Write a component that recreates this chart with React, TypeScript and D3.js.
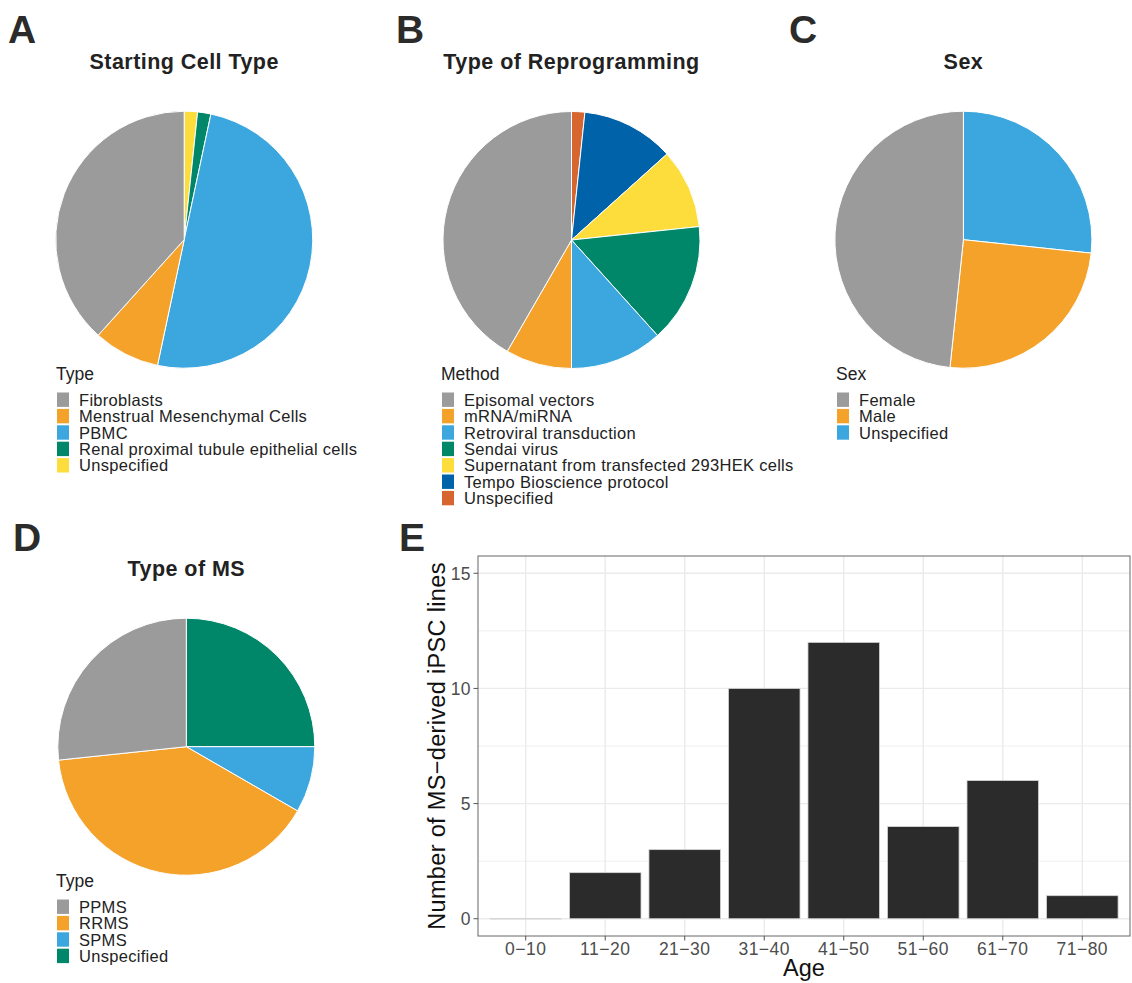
import React from 'react';
import * as d3 from 'd3';

// pie A - Starting Cell Type
const cellTypes = ['Fibroblasts', 'Menstrual Mesenchymal Cells', 'PBMC', 'Renal proximal tubule epithelial cells', 'Unspecified'];
const cellCounts = [23, 5, 30, 1, 1];
const cellColors = ['#9b9b9b', '#f4a22a', '#3ba7de', '#00876a', '#fcdd3c'];

// pie B - Type of Reprogramming
const methods = ['Episomal vectors', 'mRNA/miRNA', 'Retroviral transduction', 'Sendai virus', 'Supernatant from transfected 293HEK cells', 'Tempo Bioscience protocol', 'Unspecified'];
const methodCounts = [25, 5, 7, 9, 6, 7, 1];
const methodColors = ['#9b9b9b', '#f4a22a', '#3ba7de', '#00876a', '#fcdd3c', '#0062a9', '#d66530'];

// pie C - Sex
const sexes = ['Female', 'Male', 'Unspecified'];
const sexCounts = [29, 15, 16];
const sexColors = ['#9b9b9b', '#f4a22a', '#3ba7de'];

// pie D - Type of MS
const msTypes = ['PPMS', 'RRMS', 'SPMS', 'Unspecified'];
const msCounts = [16, 24, 5, 15];
const msColors = ['#9b9b9b', '#f4a22a', '#3ba7de', '#00876a'];

// bar E - age
const ageGroups = ['0\u221210', '11\u221220', '21\u221230', '31\u221240', '41\u221250', '51\u221260', '61\u221270', '71\u221280'];
const ageCounts = [0, 2, 3, 10, 12, 4, 6, 1];
const yTicks = [0, 5, 10, 15];
const yMinor = [2.5, 7.5, 12.5];

const FONT = '"Liberation Sans", Arial, Helvetica, sans-serif';

type PieProps = {
  cx: number; cy: number; r: number;
  title: string; titleY: number;
  labels: string[]; counts: number[]; colors: string[];
  legendTitle: string; legendX: number; legendY: number;
};

const Pie = ({ cx, cy, r, title, titleY, labels, counts, colors, legendTitle, legendX, legendY }: PieProps) => {
  // ggplot coord_polar stacks the last level first, clockwise from 12 o'clock
  const rows = labels.map((l, i) => ({ label: l, value: counts[i], color: colors[i] })).reverse();
  const arcs = d3.pie<any>().sort(null).value(d => d.value)(rows);
  const arc = d3.arc<any>().innerRadius(0).outerRadius(r);
  const rowH = 16.4;
  return (
    <g>
      <text x={cx} y={titleY} textAnchor="middle" fontFamily={FONT} fontWeight="bold" fontSize={21.5} letterSpacing={0.45} fill="#222">{title}</text>
      <g transform={`translate(${cx},${cy})`}>
        {arcs.map((a, i) => (
          <path key={i} d={arc(a) as string} fill={a.data.color} stroke="#fff" strokeWidth={1} />
        ))}
      </g>
      <g transform={`translate(${legendX},${legendY})`} fontFamily={FONT}>
        <text x={0} y={0} fontSize={17.5} fill="#222">{legendTitle}</text>
        {labels.map((l, i) => (
          <g key={l} transform={`translate(0,${12 + i * rowH})`}>
            <rect x={1} y={0.5} width={12} height={rowH - 2} fill={colors[i]} />
            <text x={23} y={rowH / 2 + 5.5} fontSize={16.5} letterSpacing={0.3} fill="#222">{l}</text>
          </g>
        ))}
      </g>
    </g>
  );
};

const BarPanel = () => {
  const left = 478, right = 1130, top = 556, bottom = 936;
  const x = d3.scaleBand<string>().domain(ageGroups).range([left, right]).paddingInner(0.1).paddingOuter(0.15);
  const y = d3.scaleLinear().domain([-0.75, 15.75]).range([bottom, top]);
  const grid = '#ebebeb';
  return (
    <g fontFamily={FONT}>
      {yMinor.map(t => (
        <line key={'m' + t} x1={left} x2={right} y1={y(t)} y2={y(t)} stroke={grid} strokeWidth={0.8} />
      ))}
      {yTicks.map(t => (
        <line key={'g' + t} x1={left} x2={right} y1={y(t)} y2={y(t)} stroke={grid} strokeWidth={1.4} />
      ))}
      {ageGroups.map(g => (
        <line key={'v' + g} x1={x(g)! + x.bandwidth() / 2} x2={x(g)! + x.bandwidth() / 2} y1={top} y2={bottom} stroke={grid} strokeWidth={1.4} />
      ))}
      {ageGroups.map((g, i) => (
        ageCounts[i] > 0 ? (
          <rect key={'b' + g} x={x(g)} y={y(ageCounts[i])} width={x.bandwidth()} height={y(0) - y(ageCounts[i])}
            fill="#2b2b2b" stroke="#d5d5d5" strokeWidth={0.8} />
        ) : (
          <line key={'b' + g} x1={x(g)} x2={x(g)! + x.bandwidth()} y1={y(0)} y2={y(0)} stroke="#d5d5d5" strokeWidth={1.4} />
        )
      ))}
      <rect x={left} y={top} width={right - left} height={bottom - top} fill="none" stroke="#666" strokeWidth={1} />
      {yTicks.map(t => (
        <g key={'yt' + t}>
          <line x1={left - 4.5} x2={left} y1={y(t)} y2={y(t)} stroke="#555" strokeWidth={1} />
          <text x={left - 7} y={y(t)} dy="0.36em" textAnchor="end" fontSize={17.5} letterSpacing={0.4} fill="#4d4d4d">{t}</text>
        </g>
      ))}
      {ageGroups.map(g => (
        <g key={'xt' + g}>
          <line x1={x(g)! + x.bandwidth() / 2} x2={x(g)! + x.bandwidth() / 2} y1={bottom} y2={bottom + 4.5} stroke="#555" strokeWidth={1} />
          <text x={x(g)! + x.bandwidth() / 2} y={955} textAnchor="middle" fontSize={17.5} letterSpacing={0.5} fill="#4d4d4d">{g}</text>
        </g>
      ))}
      <text x={(left + right) / 2} y={976} textAnchor="middle" fontSize={23.5} fill="#111">Age</text>
      <text transform={`translate(445,${(top + bottom) / 2}) rotate(-90)`} textAnchor="middle" fontSize={23.5} letterSpacing={0.33} fill="#111">
        Number of MS{'\u2212'}derived iPSC lines
      </text>
    </g>
  );
};

const Letter = ({ x, y, t }: { x: number; y: number; t: string }) => (
  <text x={x} y={y} fontFamily={FONT} fontWeight="bold" fontSize={39} fill="#2b2b2b">{t}</text>
);

export default function App() {
  return (
    <svg width={1132} height={983} style={{ position: 'absolute', left: 0, top: 0, background: '#fff' }}>
      <rect width={1132} height={983} fill="#fff" />
      <Letter x={8} y={43} t="A" />
      <Letter x={396} y={43} t="B" />
      <Letter x={789} y={43} t="C" />
      <Letter x={13} y={551} t="D" />
      <Letter x={399} y={551} t="E" />
      <Pie cx={184.2} cy={239.7} r={128.5} title="Starting Cell Type" titleY={69}
        labels={cellTypes} counts={cellCounts} colors={cellColors}
        legendTitle="Type" legendX={56} legendY={380} />
      <Pie cx={571.5} cy={240} r={128.5} title="Type of Reprogramming" titleY={69}
        labels={methods} counts={methodCounts} colors={methodColors}
        legendTitle="Method" legendX={441} legendY={380} />
      <Pie cx={963.4} cy={239.7} r={128.5} title="Sex" titleY={69}
        labels={sexes} counts={sexCounts} colors={sexColors}
        legendTitle="Sex" legendX={836} legendY={380} />
      <Pie cx={186.3} cy={746.7} r={128.5} title="Type of MS" titleY={576}
        labels={msTypes} counts={msCounts} colors={msColors}
        legendTitle="Type" legendX={56} legendY={887} />
      <BarPanel />
    </svg>
  );
}
